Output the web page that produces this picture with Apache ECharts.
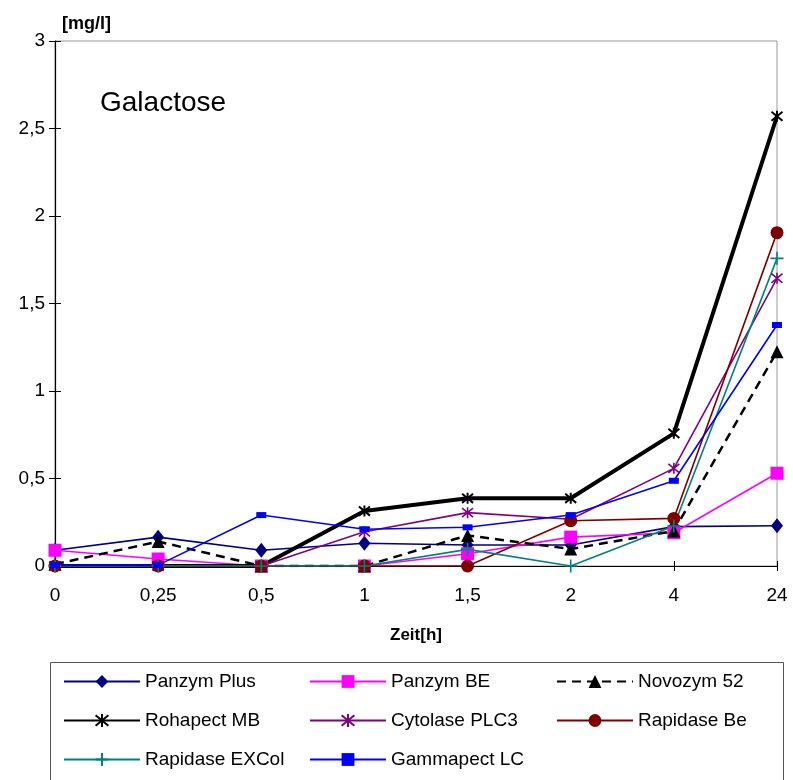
<!DOCTYPE html>
<html>
<head>
<meta charset="utf-8">
<script src="https://cdn.jsdelivr.net/npm/echarts@6/dist/echarts.min.js"></script>
<style>
html,body{margin:0;padding:0;background:#fff;}
#c{width:793px;height:780px;}
</style>
</head>
<body>
<div id="c"></div>
<script>
const categories = ['0', '0,25', '0,5', '1', '1,5', '2', '4', '24'];
const seriesNames = ['Panzym Plus', 'Panzym BE', 'Novozym 52', 'Rohapect MB', 'Cytolase PLC3', 'Rapidase Be', 'Rapidase EXCol', 'Gammapect LC'];
const panzymPlus   = [0.09, 0.165, 0.09, 0.13, 0.12, 0.12, 0.225, 0.23];
const panzymBE     = [0.09, 0.04, 0, 0, 0.07, 0.165, 0.19, 0.53];
const novozym52    = [0.01, 0.14, 0, 0, 0.175, 0.097, 0.2, 1.225];
const rohapectMB   = [0, 0, 0, 0.314, 0.387, 0.387, 0.758, 2.57];
const cytolasePLC3 = [0, 0, 0, 0.196, 0.305, 0.267, 0.558, 1.644];
const rapidaseBe   = [0, 0, 0, 0, 0, 0.259, 0.272, 1.905];
const rapidaseEX   = [0, 0, 0, 0, 0.095, 0, 0.229, 1.758];
const gammapectLC  = [0.005, 0.005, 0.291, 0.21, 0.221, 0.291, 0.487, 1.377];
const yTicks = { min: 0, max: 3, interval: 0.5 };

const ASTER = 'path://M0,0L10,10M10,0L0,10M5,-1L5,11';
const PLUS = 'path://M5,0L5,10M0,5L10,5';

function mk(name, data, color, symbol, size, extra) {
  return Object.assign({
    name: name, type: 'line', data: data, color: color,
    symbol: symbol, symbolSize: size, showSymbol: true,
    lineStyle: { color: color, width: 1.6 },
    itemStyle: { color: color },
    emphasis: { disabled: true },
    animation: false, z: 3
  }, extra || {});
}

const series = [
  mk(seriesNames[0], panzymPlus, '#000080', 'diamond', [12, 15]),
  mk(seriesNames[1], panzymBE, '#FF00FF', 'rect', 13),
  mk(seriesNames[2], novozym52, '#000000', 'triangle', 13, { lineStyle: { color: '#000', width: 2.5, type: [9, 6] } }),
  mk(seriesNames[3], rohapectMB, '#000000', ASTER, 11, { lineStyle: { color: '#000', width: 4 }, itemStyle: { color: '#000', borderColor: '#000', borderWidth: 2 } }),
  mk(seriesNames[4], cytolasePLC3, '#800080', ASTER, 11, { itemStyle: { color: '#800080', borderColor: '#800080', borderWidth: 1.6 } }),
  mk(seriesNames[5], rapidaseBe, '#800000', 'circle', 13),
  mk(seriesNames[6], rapidaseEX, '#008080', PLUS, 13, { itemStyle: { color: '#008080', borderColor: '#008080', borderWidth: 1.6 } }),
  mk(seriesNames[7], gammapectLC, '#0000FF', 'rect', [10, 6])
];

const font = 'Liberation Sans, Arial, sans-serif';
// legend grid: column x, row centre y
const legCols = [63, 309, 556];
const legRows = [682, 721, 760];
const legends = seriesNames.map((n, i) => ({
  left: legCols[i % 3], top: legRows[Math.floor(i / 3)] - 10, padding: 0,
  orient: 'horizontal', itemWidth: 76, itemHeight: 16, itemGap: 0,
  data: [n], selectedMode: false,
  textStyle: { fontFamily: font, fontSize: 19, color: '#000' }
}));

const chart = echarts.init(document.getElementById('c'), null, { renderer: 'canvas' });
chart.setOption({
  backgroundColor: '#fff',
  animation: false,
  textStyle: { fontFamily: font },
  title: {
    text: 'Galactose', left: 95, top: 84,
    textStyle: { fontFamily: font, fontSize: 28, fontWeight: 'normal', color: '#000' }
  },
  grid: { left: 55, right: 16, top: 41, bottom: 214, show: true, borderColor: '#999', borderWidth: 1, backgroundColor: 'transparent' },
  legend: legends,
  xAxis: [{
    type: 'category', data: categories, boundaryGap: false,
    name: 'Zeit[h]', nameLocation: 'middle', nameGap: 61,
    nameTextStyle: { fontFamily: font, fontSize: 17, fontWeight: 'bold', color: '#000' },
    axisLine: { onZero: false, lineStyle: { color: '#000', width: 1.2 } },
    axisTick: { show: true, alignWithLabel: true, length: 5, lineStyle: { color: '#000' } },
    axisLabel: { fontFamily: font, fontSize: 19, color: '#000', margin: 20 },
    splitLine: { show: false }
  }, {
    type: 'category', data: categories, boundaryGap: false, position: 'bottom',
    axisLine: { show: false, onZero: false },
    axisTick: { show: true, inside: true, length: 5, lineStyle: { color: '#000' } },
    axisLabel: { show: false }, splitLine: { show: false }
  }],
  yAxis: [{
    type: 'value', min: yTicks.min, max: yTicks.max, interval: yTicks.interval,
    name: '[mg/l]', nameLocation: 'end', nameGap: 8,
    nameTextStyle: { fontFamily: font, fontSize: 18, fontWeight: 'bold', color: '#000', align: 'left', padding: [0, 0, 0, 7] },
    axisLine: { show: true, lineStyle: { color: '#000', width: 1.2 } },
    axisTick: { show: true, length: 6, lineStyle: { color: '#000' } },
    axisLabel: { fontFamily: font, fontSize: 19, color: '#000', margin: 10, formatter: v => String(v).replace('.', ',') },
    splitLine: { show: false }
  }, {
    type: 'value', min: yTicks.min, max: yTicks.max, interval: yTicks.interval, position: 'left',
    axisLine: { show: false },
    axisTick: { show: true, inside: true, length: 6, lineStyle: { color: '#000' } },
    axisLabel: { show: false }, splitLine: { show: false }
  }],
  graphic: [{
    type: 'rect', left: 50, top: 662,
    shape: { width: 733, height: 140 },
    style: { fill: 'transparent', stroke: '#555', lineWidth: 1 },
    z: -1
  }],
  series: series
});
</script>
</body>
</html>
